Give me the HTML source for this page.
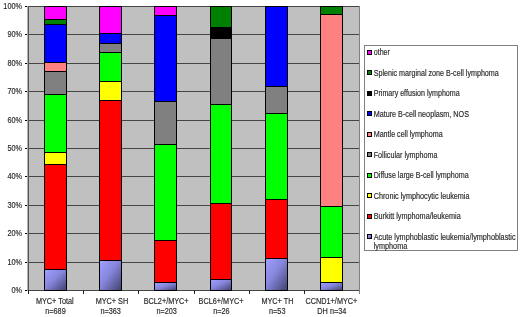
<!DOCTYPE html>
<html><head><meta charset="utf-8"><style>
html,body{margin:0;padding:0;background:#fff;}
body{width:520px;height:317px;overflow:hidden;position:relative;}
svg{position:absolute;left:0;top:0;will-change:transform;}
text{font-family:"Liberation Sans",sans-serif;fill:#2a2a2a;stroke:#2a2a2a;stroke-width:0.18px;}
.t{opacity:0.99;}
</style></head><body>
<svg width="520" height="317" viewBox="0 0 520 317">
<defs>
<linearGradient id="ag" x1="0" y1="0" x2="1" y2="1">
<stop offset="0" stop-color="#a0a0ff"/><stop offset="0.45" stop-color="#8686dc"/><stop offset="1" stop-color="#40406e"/>
</linearGradient>
</defs>

<rect x="28" y="6" width="331" height="284" fill="#C0C0C0"/>
<line x1="359.5" y1="6" x2="359.5" y2="291" stroke="#808080" stroke-width="1"/>
<line x1="28" y1="6.5" x2="359" y2="6.5" stroke="#454545" stroke-width="1"/>
<line x1="25" y1="6.5" x2="28" y2="6.5" stroke="#000" stroke-width="1"/>
<line x1="28" y1="34.5" x2="359" y2="34.5" stroke="#454545" stroke-width="1"/>
<line x1="25" y1="34.5" x2="28" y2="34.5" stroke="#000" stroke-width="1"/>
<line x1="28" y1="63.5" x2="359" y2="63.5" stroke="#454545" stroke-width="1"/>
<line x1="25" y1="63.5" x2="28" y2="63.5" stroke="#000" stroke-width="1"/>
<line x1="28" y1="91.5" x2="359" y2="91.5" stroke="#454545" stroke-width="1"/>
<line x1="25" y1="91.5" x2="28" y2="91.5" stroke="#000" stroke-width="1"/>
<line x1="28" y1="120.5" x2="359" y2="120.5" stroke="#454545" stroke-width="1"/>
<line x1="25" y1="120.5" x2="28" y2="120.5" stroke="#000" stroke-width="1"/>
<line x1="28" y1="148.5" x2="359" y2="148.5" stroke="#454545" stroke-width="1"/>
<line x1="25" y1="148.5" x2="28" y2="148.5" stroke="#000" stroke-width="1"/>
<line x1="28" y1="176.5" x2="359" y2="176.5" stroke="#454545" stroke-width="1"/>
<line x1="25" y1="176.5" x2="28" y2="176.5" stroke="#000" stroke-width="1"/>
<line x1="28" y1="205.5" x2="359" y2="205.5" stroke="#454545" stroke-width="1"/>
<line x1="25" y1="205.5" x2="28" y2="205.5" stroke="#000" stroke-width="1"/>
<line x1="28" y1="233.5" x2="359" y2="233.5" stroke="#454545" stroke-width="1"/>
<line x1="25" y1="233.5" x2="28" y2="233.5" stroke="#000" stroke-width="1"/>
<line x1="28" y1="262.5" x2="359" y2="262.5" stroke="#454545" stroke-width="1"/>
<line x1="25" y1="262.5" x2="28" y2="262.5" stroke="#000" stroke-width="1"/>
<line x1="28" y1="290.5" x2="359" y2="290.5" stroke="#454545" stroke-width="1"/>
<line x1="25" y1="290.5" x2="28" y2="290.5" stroke="#000" stroke-width="1"/>
<line x1="27.5" y1="6" x2="27.5" y2="291" stroke="#b0b0b0" stroke-width="1"/>
<line x1="28.5" y1="6" x2="28.5" y2="291" stroke="#555" stroke-width="1"/>
<line x1="28.5" y1="290" x2="28.5" y2="294" stroke="#222" stroke-width="1"/>
<line x1="83.5" y1="290" x2="83.5" y2="294" stroke="#222" stroke-width="1"/>
<line x1="138.5" y1="290" x2="138.5" y2="294" stroke="#222" stroke-width="1"/>
<line x1="194.5" y1="290" x2="194.5" y2="294" stroke="#222" stroke-width="1"/>
<line x1="249.5" y1="290" x2="249.5" y2="294" stroke="#222" stroke-width="1"/>
<line x1="304.5" y1="290" x2="304.5" y2="294" stroke="#222" stroke-width="1"/>
<line x1="359.5" y1="290" x2="359.5" y2="294" stroke="#808080" stroke-width="1"/>
<rect x="44.5" y="6.5" width="22" height="13" fill="#FF00FF" stroke="#000" stroke-width="1"/>
<rect x="44.5" y="19.5" width="22" height="5" fill="#008000" stroke="#000" stroke-width="1"/>
<rect x="44.5" y="24.5" width="22" height="38" fill="#0000FF" stroke="#000" stroke-width="1"/>
<rect x="44.5" y="62.5" width="22" height="9" fill="#FF8080" stroke="#000" stroke-width="1"/>
<rect x="44.5" y="71.5" width="22" height="23" fill="#808080" stroke="#000" stroke-width="1"/>
<rect x="44.5" y="94.5" width="22" height="58" fill="#00FF00" stroke="#000" stroke-width="1"/>
<rect x="44.5" y="152.5" width="22" height="12" fill="#FFFF00" stroke="#000" stroke-width="1"/>
<rect x="44.5" y="164.5" width="22" height="105" fill="#FF0000" stroke="#000" stroke-width="1"/>
<rect x="44.5" y="269.5" width="22" height="21" fill="url(#ag)" stroke="#000" stroke-width="1"/>
<rect x="99.5" y="6.5" width="22" height="27" fill="#FF00FF" stroke="#000" stroke-width="1"/>
<rect x="99.5" y="33.5" width="22" height="10" fill="#0000FF" stroke="#000" stroke-width="1"/>
<rect x="99.5" y="43.5" width="22" height="9" fill="#808080" stroke="#000" stroke-width="1"/>
<rect x="99.5" y="52.5" width="22" height="29" fill="#00FF00" stroke="#000" stroke-width="1"/>
<rect x="99.5" y="81.5" width="22" height="19" fill="#FFFF00" stroke="#000" stroke-width="1"/>
<rect x="99.5" y="100.5" width="22" height="160" fill="#FF0000" stroke="#000" stroke-width="1"/>
<rect x="99.5" y="260.5" width="22" height="30" fill="url(#ag)" stroke="#000" stroke-width="1"/>
<rect x="154.5" y="6.5" width="22" height="9" fill="#FF00FF" stroke="#000" stroke-width="1"/>
<rect x="154.5" y="15.5" width="22" height="86" fill="#0000FF" stroke="#000" stroke-width="1"/>
<rect x="154.5" y="101.5" width="22" height="43" fill="#808080" stroke="#000" stroke-width="1"/>
<rect x="154.5" y="144.5" width="22" height="96" fill="#00FF00" stroke="#000" stroke-width="1"/>
<rect x="154.5" y="240.5" width="22" height="42" fill="#FF0000" stroke="#000" stroke-width="1"/>
<rect x="154.5" y="282.5" width="22" height="8" fill="url(#ag)" stroke="#000" stroke-width="1"/>
<rect x="210.5" y="6.5" width="21" height="21" fill="#008000" stroke="#000" stroke-width="1"/>
<rect x="210.5" y="27.5" width="21" height="11" fill="#000000" stroke="#000" stroke-width="1"/>
<rect x="210.5" y="38.5" width="21" height="66" fill="#808080" stroke="#000" stroke-width="1"/>
<rect x="210.5" y="104.5" width="21" height="99" fill="#00FF00" stroke="#000" stroke-width="1"/>
<rect x="210.5" y="203.5" width="21" height="76" fill="#FF0000" stroke="#000" stroke-width="1"/>
<rect x="210.5" y="279.5" width="21" height="11" fill="url(#ag)" stroke="#000" stroke-width="1"/>
<rect x="265.5" y="6.5" width="22" height="80" fill="#0000FF" stroke="#000" stroke-width="1"/>
<rect x="265.5" y="86.5" width="22" height="27" fill="#808080" stroke="#000" stroke-width="1"/>
<rect x="265.5" y="113.5" width="22" height="86" fill="#00FF00" stroke="#000" stroke-width="1"/>
<rect x="265.5" y="199.5" width="22" height="59" fill="#FF0000" stroke="#000" stroke-width="1"/>
<rect x="265.5" y="258.5" width="22" height="32" fill="url(#ag)" stroke="#000" stroke-width="1"/>
<rect x="320.5" y="6.5" width="22" height="8" fill="#008000" stroke="#000" stroke-width="1"/>
<rect x="320.5" y="14.5" width="22" height="192" fill="#FF8080" stroke="#000" stroke-width="1"/>
<rect x="320.5" y="206.5" width="22" height="51" fill="#00FF00" stroke="#000" stroke-width="1"/>
<rect x="320.5" y="257.5" width="22" height="25" fill="#FFFF00" stroke="#000" stroke-width="1"/>
<rect x="320.5" y="282.5" width="22" height="8" fill="url(#ag)" stroke="#000" stroke-width="1"/>
<g class="t">
<text transform="translate(22.00,9.00) scale(0.88,1)" font-size="8.3" text-anchor="end">100%</text>
<text transform="translate(22.00,37.00) scale(0.88,1)" font-size="8.3" text-anchor="end">90%</text>
<text transform="translate(22.00,66.00) scale(0.88,1)" font-size="8.3" text-anchor="end">80%</text>
<text transform="translate(22.00,94.00) scale(0.88,1)" font-size="8.3" text-anchor="end">70%</text>
<text transform="translate(22.00,123.00) scale(0.88,1)" font-size="8.3" text-anchor="end">60%</text>
<text transform="translate(22.00,151.00) scale(0.88,1)" font-size="8.3" text-anchor="end">50%</text>
<text transform="translate(22.00,179.00) scale(0.88,1)" font-size="8.3" text-anchor="end">40%</text>
<text transform="translate(22.00,208.00) scale(0.88,1)" font-size="8.3" text-anchor="end">30%</text>
<text transform="translate(22.00,236.00) scale(0.88,1)" font-size="8.3" text-anchor="end">20%</text>
<text transform="translate(22.00,265.00) scale(0.88,1)" font-size="8.3" text-anchor="end">10%</text>
<text transform="translate(22.00,293.00) scale(0.88,1)" font-size="8.3" text-anchor="end">0%</text>
<text transform="translate(54.78,304.00) scale(0.88,1)" font-size="8.3" text-anchor="middle">MYC+ Total</text>
<text transform="translate(55.48,313.70) scale(0.88,1)" font-size="8.3" text-anchor="middle">n=689</text>
<text transform="translate(111.95,304.00) scale(0.88,1)" font-size="8.3" text-anchor="middle">MYC+ SH</text>
<text transform="translate(110.65,313.70) scale(0.88,1)" font-size="8.3" text-anchor="middle">n=363</text>
<text transform="translate(166.12,304.00) scale(0.88,1)" font-size="8.3" text-anchor="middle">BCL2+/MYC+</text>
<text transform="translate(166.62,313.70) scale(0.88,1)" font-size="8.3" text-anchor="middle">n=203</text>
<text transform="translate(221.08,304.00) scale(0.88,1)" font-size="8.3" text-anchor="middle">BCL6+/MYC+</text>
<text transform="translate(221.38,313.70) scale(0.88,1)" font-size="8.3" text-anchor="middle">n=26</text>
<text transform="translate(277.45,304.00) scale(0.88,1)" font-size="8.3" text-anchor="middle">MYC+ TH</text>
<text transform="translate(277.25,313.70) scale(0.88,1)" font-size="8.3" text-anchor="middle">n=53</text>
<text transform="translate(331.42,304.00) scale(0.88,1)" font-size="8.3" text-anchor="middle">CCND1+/MYC+</text>
<text transform="translate(331.82,313.70) scale(0.88,1)" font-size="8.3" text-anchor="middle">DH n=34</text>
</g>
<rect x="364.5" y="45.5" width="153" height="205" fill="#fff" stroke="#808080" stroke-width="1"/>
<g class="t">
<rect x="367.5" y="50.5" width="4" height="4" fill="#FF00FF" stroke="#000" stroke-width="1"/>
<text transform="translate(373.70,55.10) scale(0.8602,1)" font-size="8.3" text-anchor="start">other</text>
<rect x="367.5" y="70.5" width="4" height="4" fill="#008000" stroke="#000" stroke-width="1"/>
<text transform="translate(373.70,75.60) scale(0.8623,1)" font-size="8.3" text-anchor="start">Splenic marginal zone B-cell lymphoma</text>
<rect x="367.5" y="91.5" width="4" height="4" fill="#000000" stroke="#000" stroke-width="1"/>
<text transform="translate(373.70,96.10) scale(0.8582,1)" font-size="8.3" text-anchor="start">Primary effusion lymphoma</text>
<rect x="367.5" y="111.5" width="4" height="4" fill="#0000FF" stroke="#000" stroke-width="1"/>
<text transform="translate(373.70,116.60) scale(0.8683,1)" font-size="8.3" text-anchor="start">Mature B-cell neoplasm, NOS</text>
<rect x="367.5" y="132.5" width="4" height="4" fill="#FF8080" stroke="#000" stroke-width="1"/>
<text transform="translate(373.70,137.10) scale(0.8602,1)" font-size="8.3" text-anchor="start">Mantle cell lymphoma</text>
<rect x="367.5" y="152.5" width="4" height="4" fill="#808080" stroke="#000" stroke-width="1"/>
<text transform="translate(373.70,157.60) scale(0.8653,1)" font-size="8.3" text-anchor="start">Follicular lymphoma</text>
<rect x="367.5" y="173.5" width="4" height="4" fill="#00FF00" stroke="#000" stroke-width="1"/>
<text transform="translate(373.70,178.10) scale(0.8633,1)" font-size="8.3" text-anchor="start">Diffuse large B-cell lymphoma</text>
<rect x="367.5" y="193.5" width="4" height="4" fill="#FFFF00" stroke="#000" stroke-width="1"/>
<text transform="translate(373.70,198.60) scale(0.8744,1)" font-size="8.3" text-anchor="start">Chronic lymphocytic leukemia</text>
<rect x="367.5" y="214.5" width="4" height="4" fill="#FF0000" stroke="#000" stroke-width="1"/>
<text transform="translate(373.70,219.10) scale(0.8744,1)" font-size="8.3" text-anchor="start">Burkitt lymphoma/leukemia</text>
<rect x="367.5" y="234.5" width="4" height="4" fill="url(#ag)" stroke="#000" stroke-width="1"/>
<text transform="translate(373.70,239.60) scale(0.8774,1)" font-size="8.3" text-anchor="start">Acute lymphoblastic leukemia/lymphoblastic</text>
<text transform="translate(373.70,248.80) scale(0.8774,1)" font-size="8.3" text-anchor="start">lymphoma</text>
</g>
</svg></body></html>
